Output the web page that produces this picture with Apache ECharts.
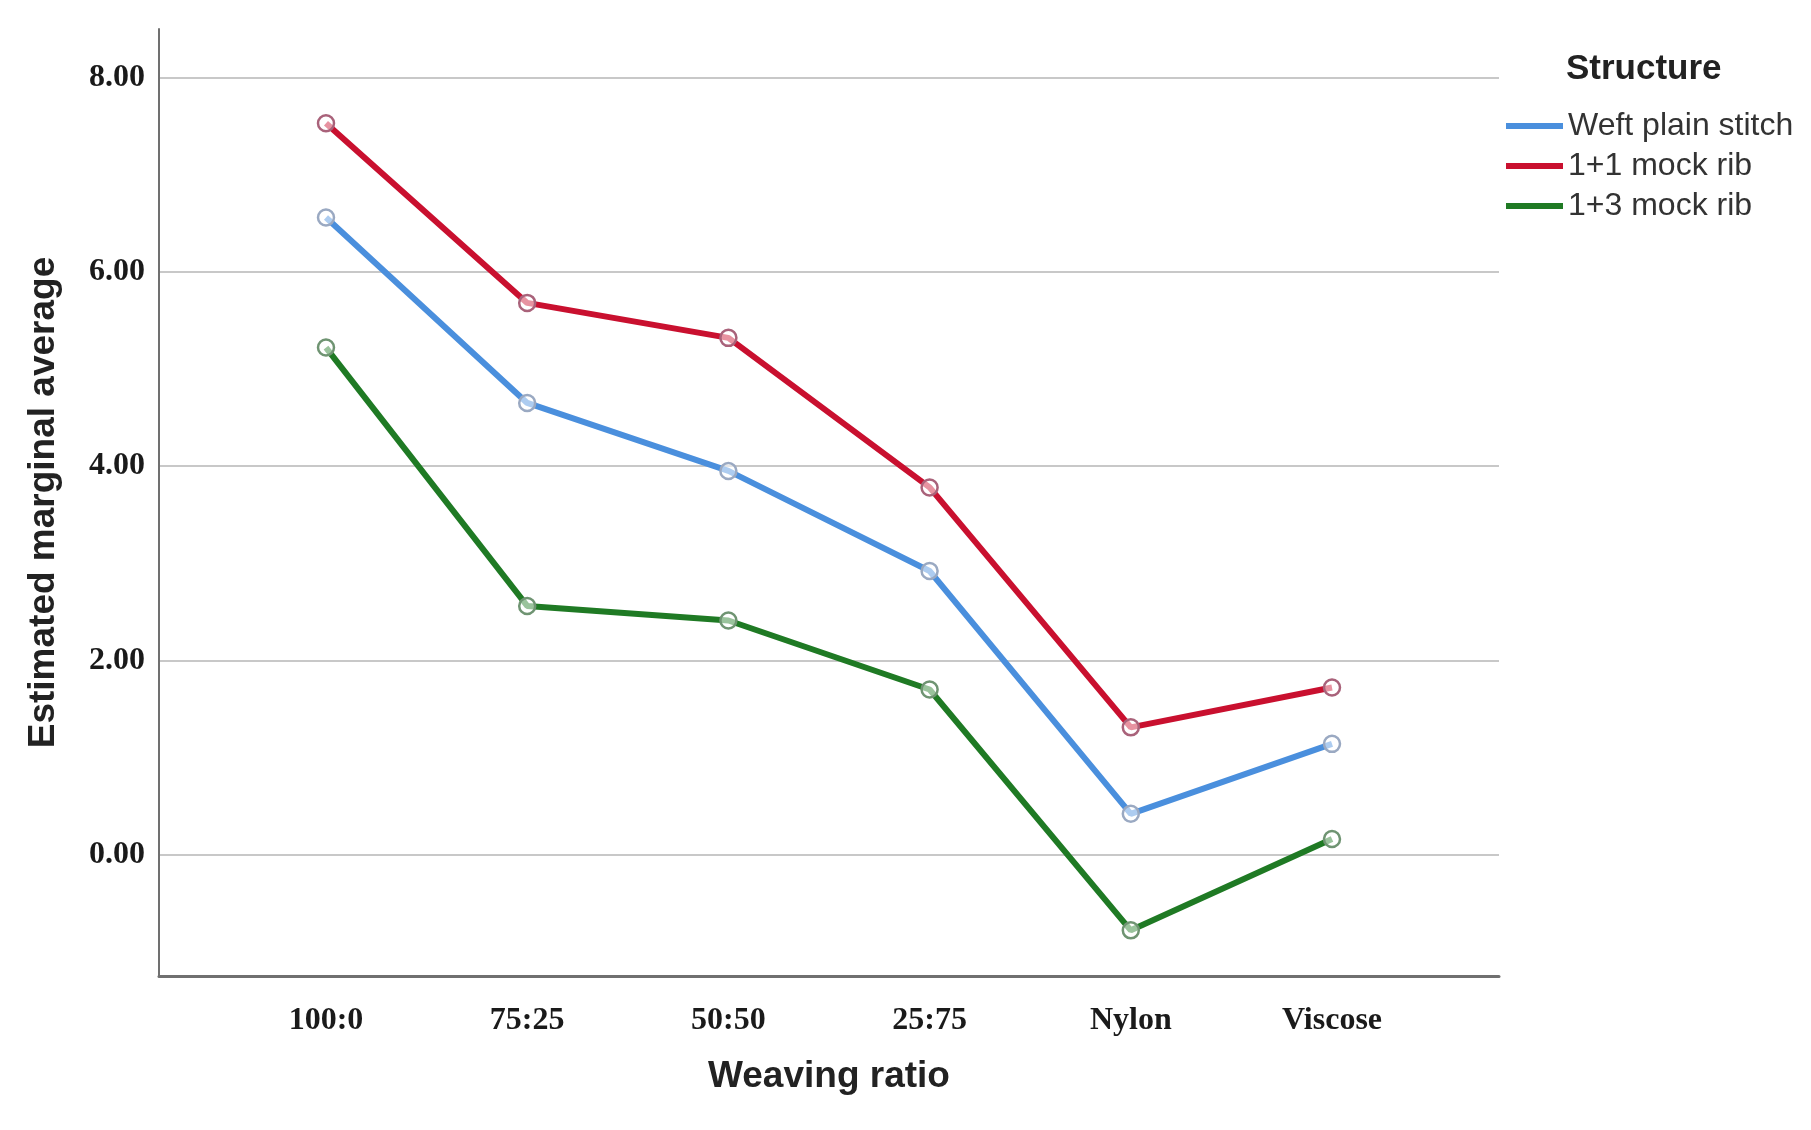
<!DOCTYPE html>
<html>
<head>
<meta charset="utf-8">
<script src="https://cdn.jsdelivr.net/npm/echarts@6/dist/echarts.min.js"></script>
<style>html,body{margin:0;padding:0;background:#fff;}#c{width:1811px;height:1130px;}</style>
</head>
<body>
<div id="c"></div>
<script>
const categories = ['100:0', '75:25', '50:50', '25:75', 'Nylon', 'Viscose'];
const seriesNames = ['Weft plain stitch', '1+1 mock rib', '1+3 mock rib'];
const weftPlain = [6.56, 4.65, 3.95, 2.92, 0.42, 1.14];
const mockRib11 = [7.53, 5.68, 5.32, 3.78, 1.31, 1.72];
const mockRib13 = [5.22, 2.56, 2.41, 1.70, -0.78, 0.16];
const yTicks = [0, 2, 4, 6, 8];
const xTicks = [0, 1, 2, 3, 4, 5];

const colors = ['#4a8fdd', '#c9102f', '#1f7a24'];
const borders = ['#9aa9c2', '#a9627a', '#6f9472'];
const values = [weftPlain, mockRib11, mockRib13];

const chart = echarts.init(document.getElementById('c'), null, {renderer: 'canvas'});
const serif = '"Liberation Serif", "Times New Roman", serif';
const sans = '"Liberation Sans", Arial, sans-serif';

chart.setOption({
  backgroundColor: '#ffffff',
  animation: false,
  title: {
    text: 'Structure',
    left: 1566, top: 52, padding: 0,
    textStyle: {fontFamily: sans, fontWeight: 'bold', fontSize: 35, color: '#222'}
  },
  legend: {
    orient: 'vertical',
    left: 1506, top: 110, padding: 0,
    itemWidth: 57, itemHeight: 6, itemGap: 8,
    icon: 'rect',
    textStyle: {fontFamily: sans, fontSize: 32, color: '#333', lineHeight: 31},
    data: seriesNames.map((n, i) => ({name: n, itemStyle: {color: colors[i], borderWidth: 0}}))
  },
  grid: {left: 159, right: 312, top: 29, bottom: 154, containLabel: false},
  xAxis: {
    type: 'value', min: -0.83, max: 5.83,
    name: 'Weaving ratio', nameLocation: 'middle', nameGap: 82,
    nameTextStyle: {fontFamily: sans, fontWeight: 'bold', fontSize: 37, color: '#222'},
    axisLine: {show: true, onZero: false, lineStyle: {color: '#707070', width: 3}},
    axisTick: {show: false, customValues: xTicks},
    splitLine: {show: false},
    axisLabel: {
      customValues: xTicks, margin: 29,
      fontFamily: serif, fontWeight: 'bold', fontSize: 32, color: '#1a1a1a',
      formatter: v => categories[Math.round(v)]
    }
  },
  yAxis: {
    type: 'value', min: -1.25, max: 8.5,
    name: 'Estimated marginal average', nameLocation: 'middle', nameGap: 97,
    nameTextStyle: {fontFamily: sans, fontWeight: 'bold', fontSize: 37, color: '#222'},
    axisLine: {show: true, onZero: false, lineStyle: {color: '#707070', width: 2}},
    axisTick: {show: false, customValues: yTicks},
    splitLine: {show: true, lineStyle: {color: '#c8c8c8', width: 2}},
    axisLabel: {
      customValues: yTicks, margin: 14,
      fontFamily: serif, fontWeight: 'bold', fontSize: 32, color: '#1a1a1a',
      formatter: v => v.toFixed(2)
    }
  },
  series: seriesNames.map((n, i) => ({
    name: n,
    type: 'line',
    data: values[i].map((v, j) => [xTicks[j], v]),
    symbol: 'circle',
    symbolSize: 16,
    lineStyle: {color: colors[i], width: 6},
    itemStyle: {color: 'rgba(255,255,255,0.55)', borderColor: borders[i], borderWidth: 2.5},
    z: 3 + i
  }))
});
</script>
</body>
</html>
